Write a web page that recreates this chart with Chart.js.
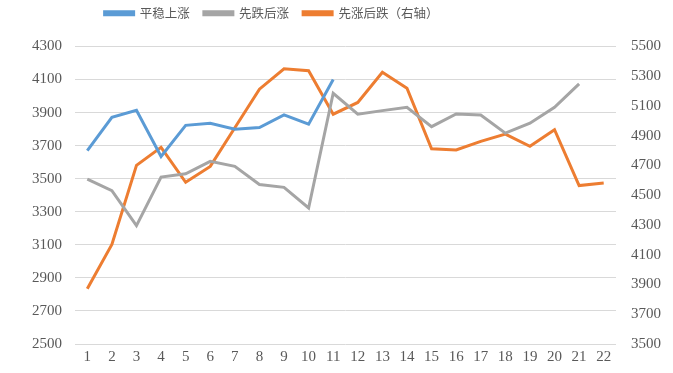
<!DOCTYPE html>
<html lang="zh">
<head>
    <meta charset="UTF-8">
    <title>先涨后跌对比</title>
    <script src="https://cdn.jsdelivr.net/npm/chart.js"></script>
    <style>
        body { margin: 0; background: #fff; }
        #wrap { width: 673px; height: 373px; }
    </style>
</head>
<body>
    <div id="wrap"><canvas id="chart"></canvas></div>

    <script>
        // data
        const labels = ['1','2','3','4','5','6','7','8','9','10','11','12','13','14','15','16','17','18','19','20','21','22'];
        const steadyUp = [3670, 3872, 3914, 3635, 3823, 3835, 3800, 3810, 3886, 3830, 4100];
        const fallThenRise = [3498, 3428, 3216, 3510, 3530, 3605, 3575, 3465, 3448, 3323, 4017, 3890, 3912, 3932, 3815, 3892, 3886, 3776, 3836, 3932, 4074];
        const riseThenFall = [3871, 4169, 4701, 4822, 4587, 4694, 4954, 5213, 5350, 5337, 5045, 5124, 5327, 5220, 4813, 4804, 4862, 4911, 4829, 4941, 4565, 4582];

        const tickFont = { family: "'Liberation Serif', serif", size: 15 };
        const plain = v => String(v);

        // legend sits left of centre in the original, and leaves a gap above the plot
        const legendNudge = {
            id: 'legendNudge',
            beforeInit(chart) {
                const fit = chart.legend.fit;
                chart.legend.fit = function () {
                    fit.call(this);
                    this.height += 17;
                };
            },
            afterLayout(chart) {
                chart.legend.left -= 76;
                chart.legend.right -= 76;
            }
        };

        new Chart(document.getElementById('chart'), {
            type: 'line',
            data: {
                labels: labels,
                datasets: [
                    { label: '平稳上涨', data: steadyUp, borderColor: '#5B9BD5', backgroundColor: '#5B9BD5', yAxisID: 'y' },
                    { label: '先跌后涨', data: fallThenRise, borderColor: '#A5A5A5', backgroundColor: '#A5A5A5', yAxisID: 'y' },
                    { label: '先涨后跌（右轴）', data: riseThenFall, borderColor: '#ED7D31', backgroundColor: '#ED7D31', yAxisID: 'y1' }
                ]
            },
            plugins: [legendNudge],
            options: {
                responsive: true,
                maintainAspectRatio: false,
                animation: false,
                layout: { padding: { left: 19, right: -3, top: -7, bottom: 3 } },
                elements: {
                    line: { borderWidth: 3, tension: 0 },
                    point: { radius: 0 }
                },
                plugins: {
                    legend: {
                        position: 'top',
                        labels: {
                            boxWidth: 29,
                            boxHeight: 3,
                            padding: 14,
                            color: '#595959',
                            font: { family: "'Noto Sans CJK SC', sans-serif", size: 12.5 }
                        }
                    },
                    tooltip: { enabled: false }
                },
                scales: {
                    x: {
                        offset: true,
                        grid: { display: false, drawTicks: false },
                        border: { display: false },
                        ticks: { color: '#595959', font: tickFont, maxRotation: 0, autoSkip: false, padding: 4 }
                    },
                    y: {
                        position: 'left',
                        min: 2500,
                        max: 4300,
                        ticks: { stepSize: 200, color: '#595959', font: tickFont, padding: 13, callback: plain },
                        grid: { color: '#D9D9D9', drawTicks: false },
                        border: { display: false }
                    },
                    y1: {
                        position: 'right',
                        min: 3500,
                        max: 5500,
                        ticks: { stepSize: 200, color: '#595959', font: tickFont, padding: 15, callback: plain },
                        grid: { display: false, drawTicks: false },
                        border: { display: false }
                    }
                }
            }
        });
    </script>
</body>
</html>
